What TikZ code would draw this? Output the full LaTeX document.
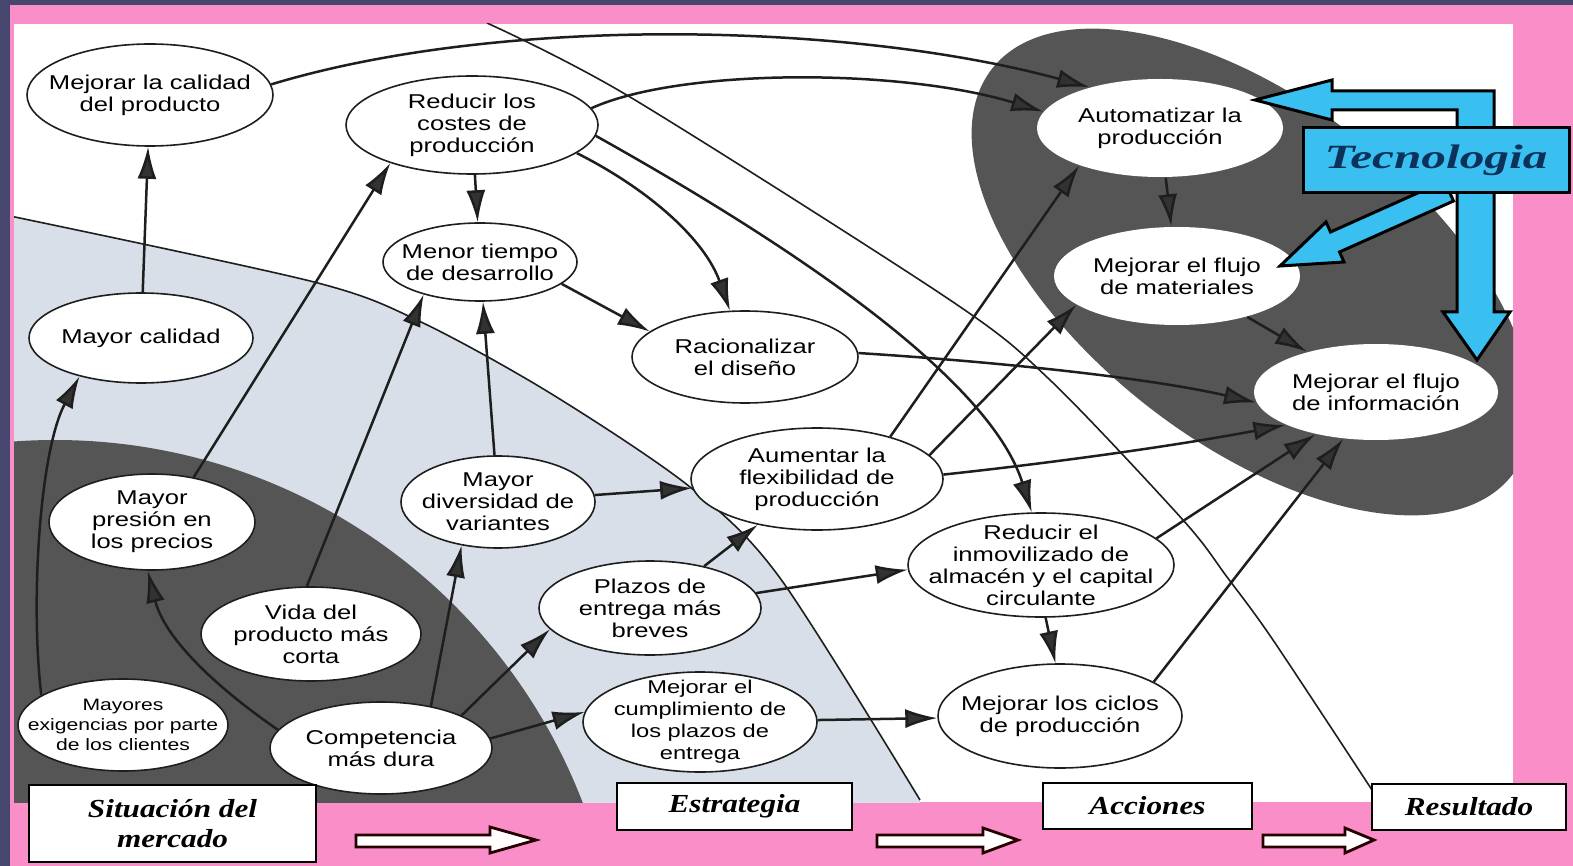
\documentclass[tikz,border=0pt]{standalone}
\usepackage{fontspec}
\usetikzlibrary{arrows.meta,shapes.geometric,calc}
\newfontfamily\nodefont[FakeStretch=1.28]{Liberation Sans}
\newfontfamily\boxfont[FakeStretch=1.2]{Liberation Serif}
\newfontfamily\tecfont[FakeStretch=1.45]{Liberation Serif}
\definecolor{pinkbg}{RGB}{250,142,200}
\definecolor{slate}{RGB}{70,70,110}
\definecolor{darkreg}{RGB}{85,85,85}
\definecolor{lightreg}{RGB}{216,223,232}
\definecolor{cyanarr}{RGB}{58,192,240}
\definecolor{tecblue}{RGB}{12,50,92}
\definecolor{linecol}{RGB}{30,30,30}
\definecolor{headcol}{RGB}{50,50,50}
\begin{document}
\begin{tikzpicture}[x=1pt,y=-1pt,
  nd/.style={ellipse, draw=linecol, line width=1.6pt, fill=white, inner xsep=-40pt, inner ysep=-30pt,
             font=\nodefont\fontsize{20}{22}\selectfont, align=center, text=black},
  res/.style={nd, draw=none},
  arr/.style={draw=linecol, line width=2.5pt, -{Latex[length=32pt,width=19pt,fill=headcol]}},
  bnd/.style={draw=linecol, line width=1.6pt},
  lblbox/.style={draw=black, line width=2.8pt, fill=white, inner sep=0, align=center,
                 font=\boxfont\bfseries\itshape\fontsize{26}{30}\selectfont},
  hollow/.style={draw=black!85!red, line width=2.8pt, fill=white, line join=miter},
  cyarr/.style={draw=black, line width=3pt, fill=cyanarr, line join=miter}
]
\useasboundingbox (0,0) rectangle (1573,866);
% background
\fill[pinkbg] (0,0) rectangle (1573,866);
\fill[slate] (0,0) rectangle (1573,5);
\fill[slate] (0,0) rectangle (10,866);
\fill[white] (14,24) rectangle (1513,802);
\begin{scope}
  \clip (14,24) rectangle (1513,802);
  \fill[lightreg] plot[smooth] coordinates {(10,216) (314,282) (421,322) (550,393) (690,487) (780,578) (920,800)} -- (920,820) -- (0,820) -- cycle;
  \fill[darkreg] (55,1005) circle[radius=565];
  \fill[darkreg, shift={(1252,272)}, rotate=-38] (0,0) ellipse [x radius=330, y radius=170];
  \draw[bnd] plot[smooth] coordinates {(10,216) (314,282) (421,322) (550,393) (690,487) (780,578) (920,800)};
  \draw[bnd] plot[smooth] coordinates {(487,23) (630,97) (950,300) (1050,380) (1183,520) (1227,577) (1273,640) (1372,790)};
\end{scope}

% nodes
\node[nd, minimum width=246pt, minimum height=102pt] (calprod) at (150,95) {Mejorar la calidad\\del producto};
\node[nd, minimum width=252pt, minimum height=98pt] (costes) at (472,125) {Reducir los\\costes de\\producción};
\node[nd, minimum width=194pt, minimum height=78pt] (menor) at (480,262) {Menor tiempo\\de desarrollo};
\node[nd, minimum width=226pt, minimum height=92pt] (racional) at (745,357) {Racionalizar\\el diseño};
\node[nd, minimum width=224pt, minimum height=90pt] (maycal) at (141,338) {Mayor calidad};
\node[nd, minimum width=206pt, minimum height=96pt] (presion) at (152,522) {Mayor\\presión en\\los precios};
\node[nd, minimum width=194pt, minimum height=92pt] (divers) at (498,502) {Mayor\\diversidad de\\variantes};
\node[nd, minimum width=252pt, minimum height=102pt] (aument) at (817,479) {Aumentar la\\flexibilidad de\\producción};
\node[nd, minimum width=220pt, minimum height=94pt] (vida) at (311,634) {Vida del\\producto más\\corta};
\node[nd, minimum width=222pt, minimum height=94pt] (plazos) at (650,608) {Plazos de\\entrega más\\breves};
\node[nd, minimum width=266pt, minimum height=104pt] (inmov) at (1041,565) {Reducir el\\inmovilizado de\\almacén y el capital\\circulante};
\node[nd, minimum width=210pt, minimum height=92pt, font=\nodefont\fontsize{16.5}{20}\selectfont] (exig) at (123,725) {Mayores\\exigencias por parte\\de los clientes};
\node[nd, minimum width=222pt, minimum height=92pt] (compet) at (381,748) {Competencia\\más dura};
\node[nd, minimum width=234pt, minimum height=100pt, font=\nodefont\fontsize{18.5}{22}\selectfont] (cumpl) at (700,722) {Mejorar el\\cumplimiento de\\los plazos de\\entrega};
\node[nd, minimum width=244pt, minimum height=104pt] (ciclos) at (1060,716) {Mejorar los ciclos\\de producción};
\node[res, minimum width=246pt, minimum height=98pt] (autom) at (1160,128) {Automatizar la\\producción};
\node[res, minimum width=246pt, minimum height=98pt] (mater) at (1177,276) {Mejorar el flujo\\de materiales};
\node[res, minimum width=244pt, minimum height=96pt] (info) at (1376,392) {Mejorar el flujo\\de información};

% connectors
\draw[arr] (maycal) -- (calprod);
\draw[arr] (calprod.5) .. controls (500,15) and (850,22) .. (autom.150);
\draw[arr] (costes.8) .. controls (680,68) and (900,68) .. (autom.172);
\draw[arr] (costes) -- (menor);
\draw[arr] (costes.-15) .. controls (650,190) and (705,240) .. (racional.108);
\draw[arr] (costes.-5) .. controls (800,250) and (990,380) .. (inmov.100);
\draw[arr] (menor.-15) -- (racional.165);
\draw[arr] (divers) -- (menor);
\draw[arr] (divers) -- (aument);
\draw[arr] (plazos) -- (aument);
\draw[arr] (plazos.8) -- (inmov.182);
\draw[arr] (inmov.-85) -- (ciclos.95);
\draw[arr] (cumpl) -- (ciclos);
\draw[arr] (compet.5) -- (cumpl.175);
\draw[arr] (compet.22) -- (plazos.192);
\draw[arr] (compet.40) -- (divers.230);
\draw[arr] (compet.170) .. controls (220,690) and (165,640) .. (presion.265);
\draw[arr] (exig.160) .. controls (30,600) and (40,450) .. (maycal.212);
\draw[arr] (presion.47) -- (costes.205);
\draw[arr] (vida.95) -- (menor.210);
\draw[arr] (aument.30) -- (autom.205);
\draw[arr] (aument.12) -- (mater.196);
\draw[arr] (aument.2) .. controls (1060,462) and (1180,445) .. (info.200);
\draw[arr] (racional.2) .. controls (1000,362) and (1150,378) .. (info.185);
\draw[arr] (inmov.13) -- (info.215);
\draw[arr] (ciclos.20) -- (info.235);
\draw[arr] (autom) -- (mater);
\draw[arr] (mater) -- (info);

% technology arrows
\draw[cyarr] (1280,266) -- (1326,222) -- (1330.5,232) -- (1444.5,181) -- (1453.5,201) -- (1339.5,252) -- (1344,262) -- cycle;
\draw[cyarr] (1255,100) -- (1332,80) -- (1332,91) -- (1494,91) -- (1494,312) -- (1510,312) -- (1477,360)
   -- (1443,312) -- (1457,312) -- (1457,110) -- (1332,110) -- (1332,120) -- cycle;
\node[draw=black, line width=3pt, fill=cyanarr, minimum width=266pt, minimum height=65pt, inner sep=0,
      font=\tecfont\bfseries\itshape\fontsize{34}{36}\selectfont, text=tecblue] (tec) at (1436,160.5) {Tecnologia};

% bottom labels
\node[lblbox, minimum width=287pt, minimum height=77pt] (sit) at (172.5,823.5) {Situación del\\mercado};
\node[lblbox, minimum width=235pt, minimum height=47pt] (estr) at (734.5,806.5) {Estrategia};
\node[lblbox, minimum width=209pt, minimum height=46pt] (acc) at (1147.5,806) {Acciones};
\node[lblbox, minimum width=194pt, minimum height=46pt] (resu) at (1469,807) {Resultado};

\draw[hollow] (356,835) -- (490,835) -- (490,827) -- (536,840) -- (490,853) -- (490,847) -- (356,847) -- cycle;
\draw[hollow] (877,835) -- (983,835) -- (983,828) -- (1018,840) -- (983,853) -- (983,847) -- (877,847) -- cycle;
\draw[hollow] (1263,835) -- (1345,835) -- (1345,828) -- (1374,840) -- (1345,853) -- (1345,847) -- (1263,847) -- cycle;
\end{tikzpicture}
\end{document}
